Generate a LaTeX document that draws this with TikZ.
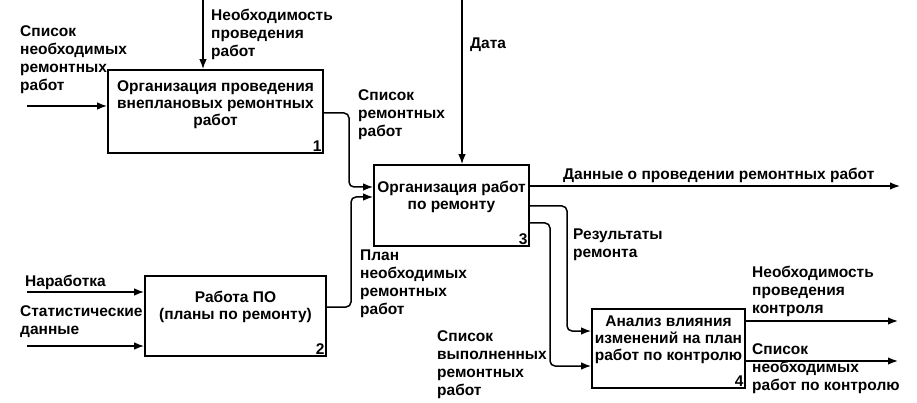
\documentclass[tikz,border=0pt]{standalone}
\usepackage{fontspec}
\setmainfont{Liberation Sans}
\usetikzlibrary{arrows.meta}

\begin{document}
\begin{tikzpicture}[x=1pt,y=-1pt,
	box/.style={draw,line width=1.6pt,inner sep=0pt},
	arr/.style={line width=1.5pt,-{Latex[length=10pt,width=7.5pt]},rounded corners=5pt},
	lbl/.style={font=\bfseries\fontsize{15.5}{18}\selectfont,align=left,inner sep=0pt,anchor=west},
	txt/.style={font=\bfseries\fontsize{15.5}{17}\selectfont,align=center,inner sep=0pt},
	num/.style={font=\bfseries\fontsize{15.5}{17}\selectfont,inner sep=2pt,anchor=south east}]

	\useasboundingbox (0,0) rectangle (917,403);

	% boxes
	\node[box,minimum width=215pt,minimum height=83pt] (b1) at (215.5,111.5) {};
	\node[box,minimum width=181pt,minimum height=80pt] (b2) at (235.5,316) {};
	\node[box,minimum width=155pt,minimum height=81pt] (b3) at (451.5,205.5) {};
	\node[box,minimum width=153pt,minimum height=79pt] (b4) at (668.5,348.5) {};

	\node[txt] (t1) at (215.5,105) {Организация проведения\\внеплановых ремонтных\\работ};
	\node[txt] (t2) at (235.5,307) {Работа ПО\\(планы по ремонту)};
	\node[txt] (t3) at (451.5,197) {Организация работ\\по ремонту};
	\node[txt] (t4) at (668.5,340) {Анализ влияния\\изменений на план\\работ по контролю};

	\node[num] (n1) at (b1.south east) {1};
	\node[num] (n2) at (b2.south east) {2};
	\node[num] (n3) at (b3.south east) {3};
	\node[num] (n4) at (b4.south east) {4};

	% free ends
	\coordinate (c1) at (203,0);
	\coordinate (c3) at (462,0);
	\coordinate (i1) at (27,106);
	\coordinate (i2a) at (27,292);
	\coordinate (i2b) at (27,346);
	\coordinate (o3) at (900,186);
	\coordinate (o4a) at (898,321);
	\coordinate (o4b) at (898,361);

	% connectors
	\draw[arr] (c1) -- (c1 |- b1.north);
	\draw[arr] (i1) -- (i1 -| b1.west);
	\draw[arr] (b1.east |- 0,113) -- (349,113) -- (349,187) -- (b3.west |- 0,187);
	\draw[arr] (i2a) -- (i2a -| b2.west);
	\draw[arr] (i2b) -- (i2b -| b2.west);
	\draw[arr] (b2.east |- 0,307) -- (351,307) -- (351,197) -- (b3.west |- 0,197);
	\draw[arr] (c3) -- (c3 |- b3.north);
	\draw[arr] (b3.east |- o3) -- (o3);
	\draw[arr] (b3.east |- 0,206) -- (567,206) -- (567,331) -- (b4.west |- 0,331);
	\draw[arr] (b3.east |- 0,223) -- (550,223) -- (550,366) -- (b4.west |- 0,366);
	\draw[arr] (b4.east |- o4a) -- (o4a);
	\draw[arr] (b4.east |- o4b) -- (o4b);

	% labels
	\node[lbl] (l1) at (20,60) {Список\\необходимых\\ремонтных\\работ};
	\node[lbl] (l2) at (211,34) {Необходимость\\проведения\\работ};
	\node[lbl] (l3) at (358,115) {Список\\ремонтных\\работ};
	\node[lbl] (l4) at (470,45) {Дата};
	\node[lbl] (l5) at (563,175) {Данные о проведении ремонтных работ};
	\node[lbl] (l6) at (573,245) {Результаты\\ремонта};
	\node[lbl] (l7) at (360,284) {План\\необходимых\\ремонтных\\работ};
	\node[lbl] (l8) at (437,365) {Список\\выполненных\\ремонтных\\работ};
	\node[lbl] (l9) at (25,282) {Наработка};
	\node[lbl] (l10) at (20,322) {Статистические\\данные};
	\node[lbl] (l11) at (752,291) {Необходимость\\проведения\\контроля};
	\node[lbl] (l12) at (752,369) {Список\\необходимых\\работ по контролю};

\end{tikzpicture}
\end{document}
